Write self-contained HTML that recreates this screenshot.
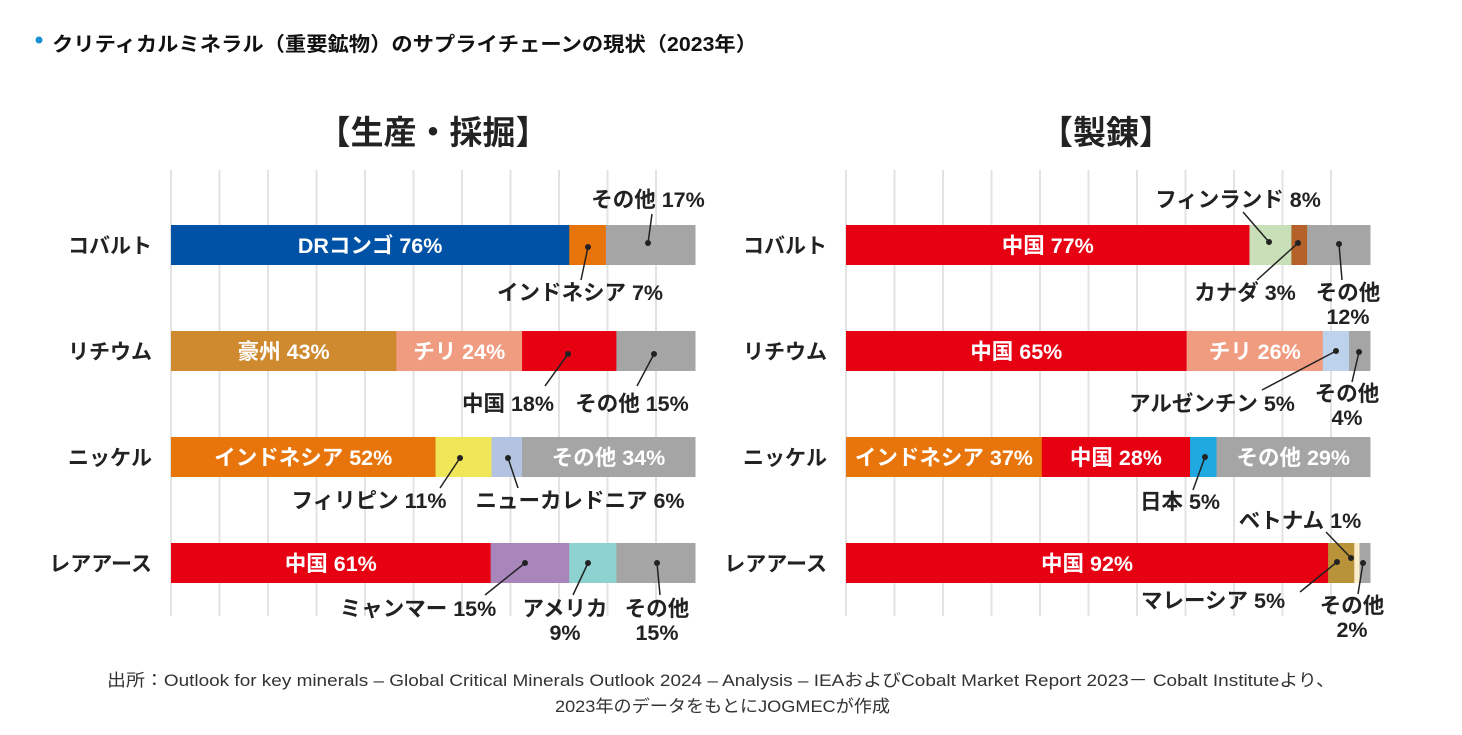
<!DOCTYPE html>
<html><head><meta charset="utf-8">
<style>
body{margin:0;background:#fff;width:1462px;height:730px;overflow:hidden;font-family:"Liberation Sans","Noto Sans CJK JP",sans-serif;}
svg text{font-family:"Liberation Sans","Noto Sans CJK JP",sans-serif;}
</style></head><body>
<svg id="chart" width="1462" height="730" xmlns="http://www.w3.org/2000/svg">
<circle cx="39" cy="40" r="3.5" fill="#1a8fd6"/>
<text x="52" y="51" font-size="20" font-weight="bold" fill="#111" textLength="705" lengthAdjust="spacingAndGlyphs">クリティカルミネラル（重要鉱物）のサプライチェーンの現状（2023年）</text>
<text x="433" y="144" font-size="33" font-weight="bold" fill="#222" text-anchor="middle">【生産・採掘】</text>
<text x="1106" y="144" font-size="33" font-weight="bold" fill="#222" text-anchor="middle">【製錬】</text>
<g id="grid"></g><g id="bars"></g><g id="ann"></g>
<text x="107" y="686" font-size="17" fill="#333" textLength="1228" lengthAdjust="spacingAndGlyphs">出所：Outlook for key minerals – Global Critical Minerals Outlook 2024 – Analysis – IEAおよびCobalt Market Report 2023－ Cobalt Instituteより、</text>
<text x="555" y="712" font-size="17" fill="#333" textLength="335" lengthAdjust="spacingAndGlyphs">2023年のデータをもとにJOGMECが作成</text>
</svg>
<script>
const categories=["コバルト","リチウム","ニッケル","レアアース"];
const leftValues=[[76,7,17],[43,24,18,15],[52,11,6,34],[61,15,9,15]];
const leftNames=[["DRコンゴ","インドネシア","その他"],["豪州","チリ","中国","その他"],["インドネシア","フィリピン","ニューカレドニア","その他"],["中国","ミャンマー","アメリカ","その他"]];
const leftColors=[["#0052a6","#e8740c","#a5a5a5"],["#cf8a30","#f09c80","#e60012","#a5a5a5"],["#e8740c","#f0e65a","#b5c3e2","#a5a5a5"],["#e60012","#a886bb","#8dd2d0","#a5a5a5"]];
const leftInside=[[1,0,0],[1,1,0,0],[1,0,0,1],[1,0,0,0]];
const rightValues=[[77,8,3,12],[65,26,5,4],[37,28,5,29],[92,5,1,2]];
const rightNames=[["中国","フィンランド","カナダ","その他"],["中国","チリ","アルゼンチン","その他"],["インドネシア","中国","日本","その他"],["中国","マレーシア","ベトナム","その他"]];
const rightColors=[["#e60012","#c8dfb7","#b4612a","#a5a5a5"],["#e60012","#f09c80","#bdd3ec","#a5a5a5"],["#e8740c","#e60012","#20a8e0","#a5a5a5"],["#e60012","#b8933a","#f9edcc","#a5a5a5"]];
const rightInside=[[1,0,0,0],[1,1,0,0],[1,1,0,1],[1,0,0,0]];
const NS="http://www.w3.org/2000/svg";
function mk(t,a,p){const e=document.createElementNS(NS,t);for(const k in a)e.setAttribute(k,a[k]);p.appendChild(e);return e;}
const rowY=i=>225+i*106, barH=40, W=524;
const grid=document.getElementById('grid'),bars=document.getElementById('bars'),ann=document.getElementById('ann');
[171,846].forEach(x0=>{for(let i=0;i<=10;i++){const x=x0+i*48.5;if(x>x0+W+3)break;
 const l=mk('line',{x1:x,x2:x,y1:170,y2:616,stroke:'#e3e3e3','stroke-width':2},grid);
 
 }});
function drawChart(x0,labelX,vals,names,cols,inside,side){
 categories.forEach((c,i)=>{
  const t=mk('text',{x:labelX,y:rowY(i)+28,'font-size':21,'font-weight':'bold',fill:'#222','text-anchor':'end'},bars);t.textContent=c;
  
  
  const tot=vals[i].reduce((a,b)=>a+b,0);let acc=0;
  vals[i].forEach((v,j)=>{
   const x=x0+acc/tot*W,w=v/tot*W;acc+=v;
   const r=mk('rect',{x:x,y:rowY(i),width:w+0.5,height:barH,fill:cols[i][j]},bars);
   
   
   if(inside[i][j]){const tt=mk('text',{x:x+w/2,y:rowY(i)+28,'font-size':21.5,'font-weight':'bold',fill:'#fff','text-anchor':'middle'},bars);
    tt.textContent=names[i][j]+' '+v+'%';
    
    }
  });
 });
}
drawChart(171,152,leftValues,leftNames,leftColors,leftInside,'left');
drawChart(846,827,rightValues,rightNames,rightColors,rightInside,'right');
// external callouts: [text lines, text x, first baseline y, dot x, dot y, line end x, line end y]
const callouts=[
 [["その他 17%"],648,207,648,243,652,214],
 [["インドネシア 7%"],580,300,588,247,581,280],
 [["中国 18%"],508,411,568,354,545,386],
 [["その他 15%"],632,411,654,354,637,386],
 [["フィリピン 11%"],369,508,460,458,440,488],
 [["ニューカレドニア 6%"],580,508,508,458,518,488],
 [["ミャンマー 15%"],418,616,525,563,485,595],
 [["アメリカ","9%"],565,616,588,563,573,595],
 [["その他","15%"],657,616,657,563,660,595],
 [["フィンランド 8%"],1238,207,1269,242,1243,212],
 [["カナダ 3%"],1245,300,1298,243,1257,280],
 [["その他","12%"],1348,300,1339,244,1342,280],
 [["アルゼンチン 5%"],1212,411,1336,351,1262,390],
 [["その他","4%"],1347,401,1359,352,1352,382],
 [["日本 5%"],1180,509,1205,457,1193,490],
 [["ベトナム 1%"],1300,528,1351,558,1326,532],
 [["マレーシア 5%"],1213,608,1337,562,1300,592],
 [["その他","2%"],1352,613,1363,563,1358,594]
];
callouts.forEach(c=>{
 const l=mk('line',{x1:c[3],y1:c[4],x2:c[5],y2:c[6],stroke:'#222','stroke-width':1.5},ann);
 
 
 const d=mk('circle',{cx:c[3],cy:c[4],r:3,fill:'#222'},ann);
 
 
 c[0].forEach((s,k)=>{const t=mk('text',{x:c[1],y:c[2]+k*24,'font-size':21.5,'font-weight':'bold',fill:'#222','text-anchor':'middle'},ann);
  t.textContent=s;
  
  });
});
</script>
</body></html>
